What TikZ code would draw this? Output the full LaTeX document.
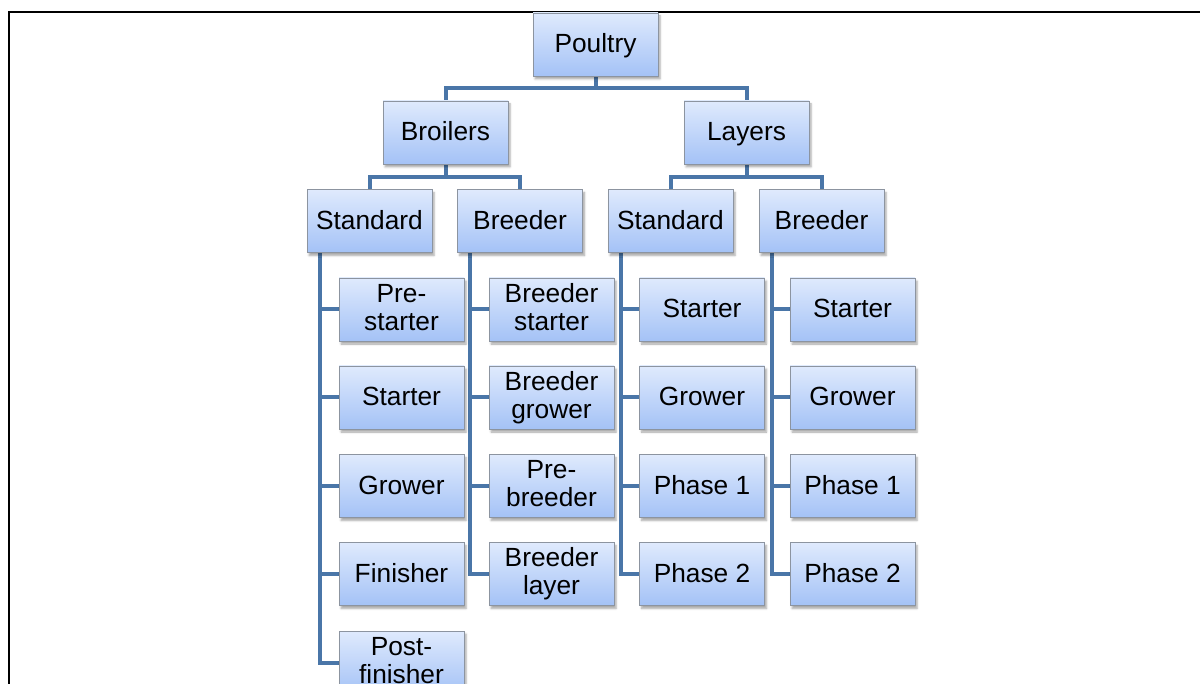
\documentclass[tikz,border=0pt]{standalone}
\usepackage{fontspec}
\setmainfont{Liberation Sans}
\usetikzlibrary{shadows.blur,backgrounds}
\definecolor{linkblue}{RGB}{74,118,168}
\definecolor{boxtop}{RGB}{223,234,253}
\definecolor{boxbot}{RGB}{164,194,246}
\definecolor{boxedge}{RGB}{140,148,160}
\begin{document}
\begin{tikzpicture}[x=1pt,y=-1pt,
  unit/.style={draw=boxedge, line width=0.8pt, top color=boxtop, bottom color=boxbot,
    minimum width=125pt, minimum height=63pt, inner sep=0pt, align=center,
    font=\fontsize{26.3}{28}\selectfont,
    execute at begin node={\rule{0pt}{22pt}},
    execute at end node={\rule[-5pt]{0pt}{5pt}},
    blur shadow={shadow xshift=2pt, shadow yshift=-3pt, shadow blur steps=5, shadow opacity=35}},
  link/.style={draw=linkblue, line width=4pt}]
\useasboundingbox (0,0) rectangle (1200,684);
\clip (0,0) rectangle (1200,684);
% outer frame
\draw[line width=2.5pt] (9,700) -- (9,12) -- (1210,12);

% top levels
\node[unit] (poultry) at (595.5,44.5) {Poultry};
\node[unit] (broilers) at (445.5,132.5) {Broilers};
\node[unit] (layers) at (746.5,132.5) {Layers};
\node[unit] (bstd) at (369.5,221) {Standard};
\node[unit] (bbrd) at (520,221) {Breeder};
\node[unit] (lstd) at (670.5,221) {Standard};
\node[unit] (lbrd) at (821.5,221) {Breeder};

% broiler standard feeds
\node[unit] (b1) at (401.5,309.5) {Pre-\\starter};
\node[unit] (b2) at (401.5,397.5) {Starter};
\node[unit] (b3) at (401.5,486) {Grower};
\node[unit] (b4) at (401.5,574) {Finisher};
\node[unit] (b5) at (401.5,662.5) {Post-\\finisher};
% broiler breeder feeds
\node[unit] (r1) at (551.5,309.5) {Breeder\\starter};
\node[unit] (r2) at (551.5,397.5) {Breeder\\grower};
\node[unit] (r3) at (551.5,486) {Pre-\\breeder};
\node[unit] (r4) at (551.5,574) {Breeder\\layer};
% layer standard feeds
\node[unit] (s1) at (702,309.5) {Starter};
\node[unit] (s2) at (702,397.5) {Grower};
\node[unit] (s3) at (702,486) {Phase 1};
\node[unit] (s4) at (702,574) {Phase 2};
% layer breeder feeds
\node[unit] (t1) at (852.5,309.5) {Starter};
\node[unit] (t2) at (852.5,397.5) {Grower};
\node[unit] (t3) at (852.5,486) {Phase 1};
\node[unit] (t4) at (852.5,574) {Phase 2};

\coordinate (bar0) at (0,88);
\coordinate (bar1) at (0,177);

\begin{scope}[on background layer]
  \draw[link] (poultry.south) -- (poultry.south |- bar0);
  \draw[link] (broilers.north) |- (layers.north |- bar0) -- (layers.north);
  \draw[link] (broilers.south) -- (broilers.south |- bar1);
  \draw[link] (bstd.north) |- (bbrd.north |- bar1) -- (bbrd.north);
  \draw[link] (layers.south) -- (layers.south |- bar1);
  \draw[link] (lstd.north) |- (lbrd.north |- bar1) -- (lbrd.north);

  \draw[link] ([xshift=13pt]bstd.south west) coordinate (vb) |- (b5.west);
  \foreach \c in {b1,b2,b3,b4} \draw[link] (vb |- \c.west) -- (\c.west);
  \draw[link] ([xshift=13pt]bbrd.south west) coordinate (vr) |- (r4.west);
  \foreach \c in {r1,r2,r3} \draw[link] (vr |- \c.west) -- (\c.west);
  \draw[link] ([xshift=13pt]lstd.south west) coordinate (vs) |- (s4.west);
  \foreach \c in {s1,s2,s3} \draw[link] (vs |- \c.west) -- (\c.west);
  \draw[link] ([xshift=13pt]lbrd.south west) coordinate (vt) |- (t4.west);
  \foreach \c in {t1,t2,t3} \draw[link] (vt |- \c.west) -- (\c.west);
\end{scope}
\end{tikzpicture}
\end{document}
